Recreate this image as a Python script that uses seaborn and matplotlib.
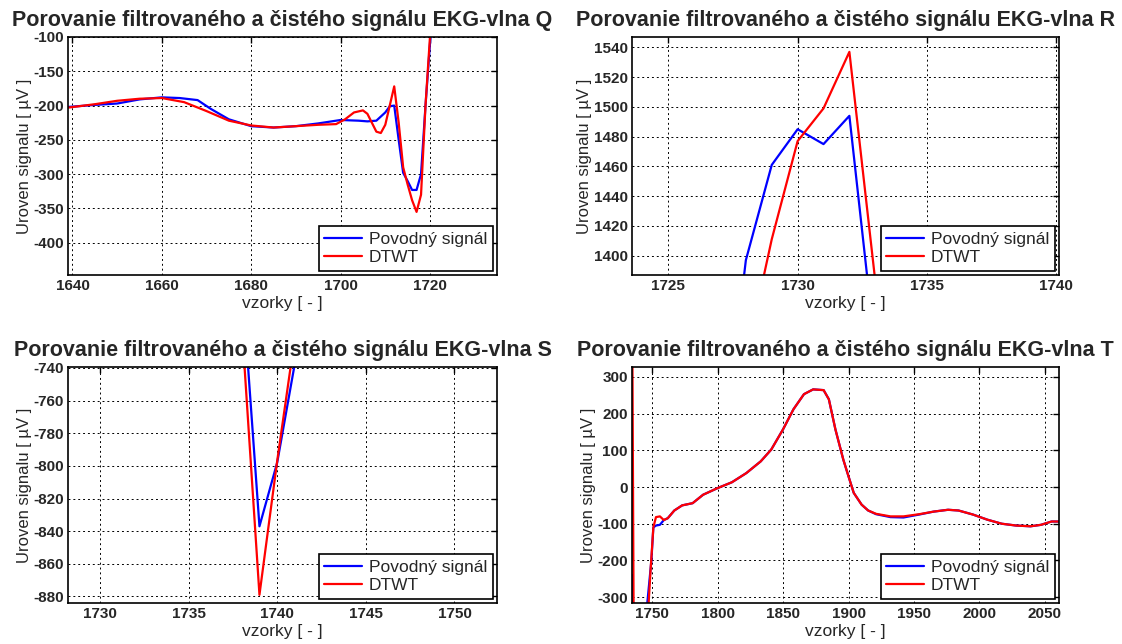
import matplotlib
matplotlib.use("Agg")
import matplotlib.pyplot as plt
import seaborn as sns

# ---- data ----
TITLE = "Porovanie filtrovaného a čistého signálu EKG-vlna "
LABELS = ["Povodný signál", "DTWT"]

q_blue_x = [1639, 1645, 1650, 1655, 1660, 1664, 1668, 1671, 1675, 1680, 1685, 1690,
            1695, 1700, 1704, 1706, 1708, 1710, 1711, 1712, 1713, 1714, 1715, 1716,
            1717, 1718, 1719, 1720, 1721]
q_blue_y = [-202, -199, -197, -191, -188, -189, -192, -205, -220, -230, -232, -230,
            -226, -221, -222, -223, -222, -210, -201, -200, -250, -298, -310, -323,
            -323, -300, -200, -110, -20]
q_red_x = [1639, 1645, 1650, 1655, 1660, 1665, 1670, 1675, 1680, 1685, 1690, 1695,
           1699, 1701, 1703, 1705, 1706, 1707, 1708, 1709, 1710, 1711, 1712, 1713,
           1714, 1715, 1716, 1717, 1718, 1719, 1720, 1721]
q_red_y = [-203, -198, -193, -190, -189, -195, -208, -222, -229, -232, -230, -228,
           -227, -220, -210, -207, -212, -225, -238, -240, -228, -200, -172, -225,
           -290, -315, -338, -355, -330, -200, -100, -10]

r_blue_x = [1727, 1728, 1729, 1730, 1731, 1732, 1733]
r_blue_y = [1250, 1397, 1461, 1485, 1475, 1494, 1337]
r_red_x = [1728, 1729, 1730, 1731, 1732, 1733]
r_red_y = [1331, 1411, 1477, 1499, 1537, 1383]

s_blue_x = [1738, 1739, 1740, 1741]
s_blue_y = [-685, -837, -798, -737]
s_red_x = [1738, 1739, 1740, 1741]
s_red_y = [-713, -879, -797, -721]

t_blue_x = [1735, 1736, 1745, 1746, 1749.5, 1751, 1753, 1756, 1759, 1762, 1767, 1773,
            1781, 1789, 1800, 1811, 1822, 1833, 1841, 1850, 1858, 1866, 1873, 1881,
            1885, 1890, 1896, 1900, 1904, 1910, 1915, 1921, 1932, 1942, 1954, 1965,
            1976, 1984, 1995, 2006, 2017, 2028, 2039, 2047, 2055, 2062]
t_blue_y = [-240, -400, -400, -330, -200, -110, -105, -103, -90, -85, -64, -50,
            -44, -21, -3, 13, 38, 70, 102, 157, 212, 253, 266, 264,
            239, 157, 75, 29, -16, -48, -64, -74, -82, -83, -75, -67,
            -62, -64, -75, -89, -100, -105, -107, -103, -94, -94]
t_red_x = [1735, 1736, 1746, 1747, 1749, 1751, 1753, 1756, 1759, 1762, 1767, 1773,
           1781, 1789, 1800, 1811, 1822, 1833, 1841, 1850, 1858, 1866, 1873, 1881,
           1885, 1890, 1896, 1900, 1904, 1910, 1915, 1921, 1932, 1942, 1954, 1965,
           1976, 1984, 1995, 2006, 2017, 2028, 2039, 2047, 2055, 2062]
t_red_y = [360, -400, -400, -340, -220, -110, -82, -80, -90, -85, -64, -50,
           -44, -21, -3, 13, 38, 70, 102, 157, 212, 253, 266, 264,
           239, 157, 75, 29, -16, -48, -64, -73, -80, -80, -74, -67,
           -62, -64, -75, -89, -100, -105, -107, -103, -94, -94]

sns.set_theme(style="white")
plt.rcParams["font.family"] = ["Liberation Sans", "DejaVu Sans"]
plt.rcParams["axes.unicode_minus"] = False

fig = plt.figure(figsize=(11.22, 6.44), dpi=100)
W, H = 1122, 644


def make_ax(left, right, top, bottom):
    return fig.add_axes([left / W, (H - bottom) / H, (right - left) / W, (bottom - top) / H])


panels = [
    ("Q", make_ax(68, 497, 37, 275), q_blue_x, q_blue_y, q_red_x, q_red_y,
     (1639, 1735), (-447, -100), [1640, 1660, 1680, 1700, 1720], [-400, -350, -300, -250, -200, -150, -100]),
    ("R", make_ax(632, 1059, 37, 275), r_blue_x, r_blue_y, r_red_x, r_red_y,
     (1723.6, 1740.1), (1387, 1547), [1725, 1730, 1735, 1740], [1400, 1420, 1440, 1460, 1480, 1500, 1520, 1540]),
    ("S", make_ax(68, 497, 367, 603), s_blue_x, s_blue_y, s_red_x, s_red_y,
     (1728.2, 1752.4), (-884, -739.4), [1730, 1735, 1740, 1745, 1750], [-880, -860, -840, -820, -800, -780, -760, -740]),
    ("T", make_ax(632, 1059, 367, 603), t_blue_x, t_blue_y, t_red_x, t_red_y,
     (1734.7, 2060.7), (-316, 327), [1750, 1800, 1850, 1900, 1950, 2000, 2050], [-300, -200, -100, 0, 100, 200, 300]),
]

for name, ax, bx, by, rx, ry, xlim, ylim, xt, yt in panels:
    sns.lineplot(x=bx, y=by, color=(0, 0, 1), linewidth=1.6, ax=ax, label=LABELS[0])
    sns.lineplot(x=rx, y=ry, color=(1, 0, 0), linewidth=1.6, ax=ax, label=LABELS[1])
    ax.set_xlim(*xlim)
    ax.set_ylim(*ylim)
    ax.set_xticks(xt)
    ax.set_yticks(yt)
    ax.grid(True, linestyle=(0, (2, 3)), color="black", linewidth=0.7)
    ax.tick_params(direction="in", top=True, right=True, length=4, width=1,
                   labelsize=11, color="black", pad=3)
    for lab in ax.get_xticklabels() + ax.get_yticklabels():
        lab.set_fontweight("bold")
    for sp in ax.spines.values():
        sp.set_color("black")
        sp.set_linewidth(1.2)
    ax.set_title(TITLE + name, fontsize=15.5, fontweight="bold", pad=8)
    ax.set_xlabel("vzorky [ - ]", fontsize=12.5, labelpad=2)
    ax.set_ylabel("Uroven signalu [ µV ]", fontsize=12, labelpad=1)
    leg = ax.legend(loc="lower right", fontsize=12.5, frameon=True, fancybox=False,
                    borderaxespad=0.25, handlelength=2.2, handletextpad=0.4,
                    borderpad=0.3, labelspacing=0.2)
    leg.get_frame().set_edgecolor("black")
    leg.get_frame().set_linewidth(1.2)
    leg.get_frame().set_alpha(1)

fig.savefig("out.png", dpi=100)
